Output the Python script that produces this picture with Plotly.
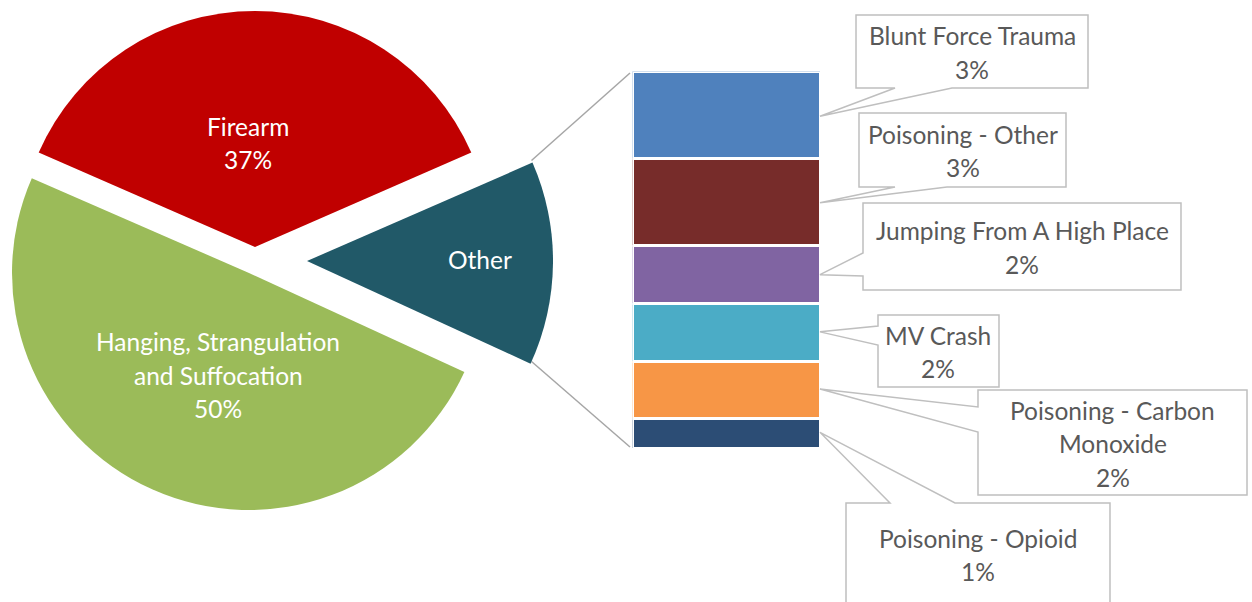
import math
import textwrap
import plotly.graph_objects as go

W, H = 1252, 602

# ---------------- data ----------------
main_labels = ["Firearm", "Hanging, Strangulation and Suffocation"]
main_values = [36.9, 49.7]
other_label = "Other"
sub_labels = ["Blunt Force Trauma", "Poisoning - Other", "Jumping From A High Place",
              "MV Crash", "Poisoning - Carbon Monoxide", "Poisoning - Opioid"]
sub_values = [3.1, 3.1, 2.05, 2.05, 2.05, 1.05]

main_colors = ["#C00000", "#9BBB59"]
other_color = "#215968"
sub_colors = ["#4F81BD", "#772C2A", "#8064A2", "#4BACC6", "#F79646", "#2C4D75"]

# ---------------- layout constants (pixels) ----------------
FONT = "Lato"
FS = 24.5
LINE = 33.5
TXT = "#595959"
BOX_LINE = "#BFBFBF"

# exploded pie pieces: centre (px) and radius (px)
pie_geo = {
    "Firearm": (255, 247, 236),
    "Hanging, Strangulation and Suffocation": (249, 273, 237),
    "Other": (307, 261, 246),
}
# label centres for pie text (px)
pie_text_pos = {
    "Firearm": (248, 143, 40),
    "Hanging, Strangulation and Suffocation": (218, 375, 22),
    "Other": (480, 259, 40),
}
BAR_X0, BAR_X1, BAR_TOP, BAR_BOT = 634, 819, 73, 447

callouts = [
    dict(box=(856, 15, 1088, 88), side="bottom", base=(895, 952), wrap=40),
    dict(box=(859, 113, 1066, 187), side="bottom", base=(895, 947), wrap=40),
    dict(box=(863, 203, 1181, 290), side="left", base=(253, 276), wrap=40),
    dict(box=(878, 315, 999, 387), side="left", base=(326, 345), wrap=40),
    dict(box=(978, 390, 1247, 495), side="left", base=(407, 432), wrap=18),
    dict(box=(846, 503, 1110, 640), side="top", base=(890, 955), wrap=40, cy=555),
]


def px2paper(x, y):
    return x / W, 1 - y / H


# ---------------- figure ----------------
fig = go.Figure()

other_total = sum(sub_values)
pie_labels = [main_labels[0], other_label, main_labels[1]]   # clockwise order
pie_values = [main_values[0], other_total, main_values[1]]
pie_colors = [main_colors[0], other_color, main_colors[1]]
grand_total = sum(pie_values)
rotation = -pie_values[0] / grand_total * 360 / 2

for k, lab in enumerate(pie_labels):
    cx, cy, r = pie_geo[lab]
    cols = [c if j == k else "rgba(0,0,0,0)" for j, c in enumerate(pie_colors)]
    x0, y1 = px2paper(cx - r, cy - r)
    x1, y0 = px2paper(cx + r, cy + r)
    fig.add_trace(go.Pie(
        labels=pie_labels, values=pie_values, sort=False, direction="clockwise",
        rotation=rotation, marker=dict(colors=cols, line=dict(width=0)),
        textinfo="none", hoverinfo="skip", showlegend=False,
        domain=dict(x=[x0, x1], y=[y0, y1]),
    ))

# pie text
annotations = []
for lab, val in zip(pie_labels, pie_values):
    tx, ty, wrapw = pie_text_pos[lab]
    lines = textwrap.wrap(lab, wrapw)
    if lab != other_label:
        lines.append(f"{val / grand_total * 100:.0f}%")
    n = len(lines)
    for i, t in enumerate(lines):
        yy = ty + (i - (n - 1) / 2) * LINE
        ax, ay = px2paper(tx, yy)
        annotations.append(dict(x=ax, y=ay, xref="paper", yref="paper", text=t,
                                showarrow=False, xanchor="center", yanchor="middle",
                                font=dict(family=FONT, size=FS, color="white")))

# stacked bar (bottom to top)
for lab, val, col in reversed(list(zip(sub_labels, sub_values, sub_colors))):
    fig.add_trace(go.Bar(x=[0], y=[val], width=1, marker=dict(color=col, line=dict(color="white", width=3)),
                         hoverinfo="skip", showlegend=False, xaxis="x", yaxis="y"))

pad = 1.5
fig.update_layout(
    barmode="stack", bargap=0,
    xaxis=dict(domain=[(BAR_X0 - pad) / W, (BAR_X1 + pad) / W], range=[-0.5, 0.5], visible=False, fixedrange=True),
    yaxis=dict(domain=[1 - (BAR_BOT + pad) / H, 1 - (BAR_TOP - pad) / H], range=[0, other_total], visible=False, fixedrange=True),
)

shapes = []
# connector lines from Other wedge corners to bar
ocx, ocy, orr = pie_geo[other_label]
half = pie_values[1] / grand_total * math.pi
for sgn, by in ((1, BAR_TOP), (-1, BAR_BOT)):
    cxp = ocx + orr * math.cos(half)
    cyp = ocy - sgn * orr * math.sin(half)
    x0, y0 = px2paper(cxp, cyp)
    x1, y1 = px2paper(BAR_X0 - 4, by)
    shapes.append(dict(type="line", xref="paper", yref="paper", x0=x0, y0=y0, x1=x1, y1=y1,
                       line=dict(color="#A6A6A6", width=1.5), layer="below"))

# callouts
cum = 0
for lab, val, c in zip(sub_labels, sub_values, callouts):
    seg_mid = BAR_TOP + (cum + val / 2) / other_total * (BAR_BOT - BAR_TOP)
    cum += val
    apex = (BAR_X1 + 1, seg_mid)
    bx0, by0, bx1, by1 = c["box"]
    b0, b1 = c["base"]
    pts = [(bx0, by0)]
    if c["side"] == "top":
        pts += [(b0, by0), apex, (b1, by0)]
    pts += [(bx1, by0), (bx1, by1)]
    if c["side"] == "bottom":
        pts += [(b1, by1), apex, (b0, by1)]
    pts += [(bx0, by1)]
    if c["side"] == "left":
        pts += [(bx0, b1), apex, (bx0, b0)]
    path = "M " + " L ".join("{:.5f},{:.5f}".format(*px2paper(x, y)) for x, y in pts) + " Z"
    shapes.append(dict(type="path", xref="paper", yref="paper", path=path,
                       fillcolor="white", line=dict(color=BOX_LINE, width=1.5)))
    lines = textwrap.wrap(lab, c["wrap"]) + [f"{val / grand_total * 100:.0f}%"]
    tcx = (bx0 + bx1) / 2
    tcy = c.get("cy", (by0 + by1) / 2 + 1)
    n = len(lines)
    for i, t in enumerate(lines):
        yy = tcy + (i - (n - 1) / 2) * LINE
        ax, ay = px2paper(tcx, yy)
        annotations.append(dict(x=ax, y=ay, xref="paper", yref="paper", text=t,
                                showarrow=False, xanchor="center", yanchor="middle",
                                font=dict(family=FONT, size=FS, color=TXT)))

fig.update_layout(
    width=W, height=H, margin=dict(l=0, r=0, t=0, b=0),
    paper_bgcolor="white", plot_bgcolor="white",
    shapes=shapes, annotations=annotations, showlegend=False,
)

fig.write_html("out.html", config={"displayModeBar": False})
